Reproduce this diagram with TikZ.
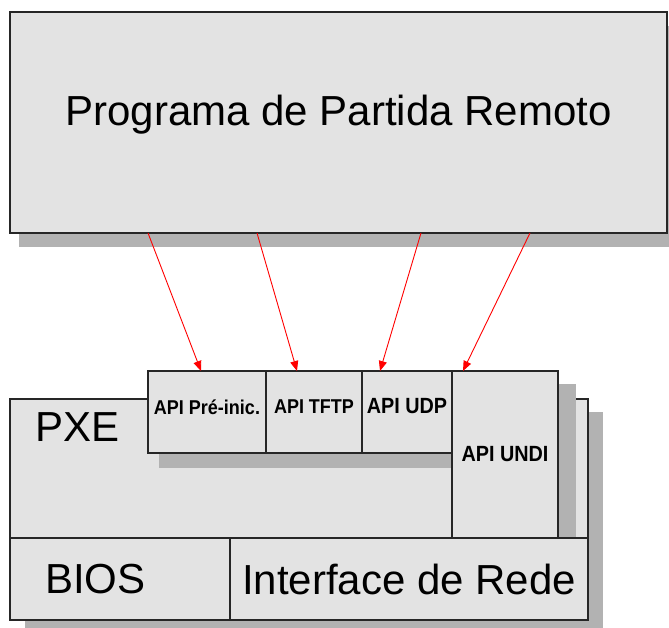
\documentclass[tikz,border=0pt]{standalone}
\usepackage{fontspec}
\setmainfont{Liberation Sans}
\newfontfamily\apifont[FakeStretch=0.9]{Liberation Sans}
\usetikzlibrary{arrows.meta}
\definecolor{boxfill}{HTML}{E3E3E3}
\definecolor{shadowc}{HTML}{B2B2B2}
\begin{document}
\begin{tikzpicture}[x=1pt,y=-1pt,
  box/.style={draw=black!85, line width=1.5pt, fill=boxfill, rectangle, inner sep=0pt, outer sep=0pt, anchor=north west},
  shadowfill/.style={fill=shadowc, draw=none},
  arr/.style={draw=red, line width=0.9pt, -{Triangle[length=10pt,width=8pt]}},
  bigtext/.style={font=\fontsize{42}{46}\selectfont},
  apismall/.style={font=\apifont\bfseries\fontsize{20}{22}\selectfont},
  apilarge/.style={font=\apifont\bfseries\fontsize{22}{24}\selectfont}]
\useasboundingbox (0,0) rectangle (669,628);

% top box
\fill[shadowfill] (19,26) rectangle (669,247);
\node[box, minimum width=657pt, minimum height=221pt, bigtext] (prog) at (10,12) {\raisebox{24pt}{Programa de Partida Remoto}};

% lower block
\fill[shadowfill] (25,412) rectangle (603,633);
\node[box, minimum width=578pt, minimum height=139pt,
  label={[anchor=north west, bigtext, inner sep=0pt, xshift=25pt, yshift=-13pt]north west:PXE}] (pxe) at (10,399) {};
\node[box, minimum width=220pt, minimum height=82pt, text width=150pt, inner xsep=35pt, align=left, bigtext] (bios) at (10,538) {BIOS};
\node[box, minimum width=358pt, minimum height=82pt, bigtext] (nic) at (230,538) {Interface de Rede};

% API shadows
\fill[shadowfill] (159,384) rectangle (464,468);
\fill[shadowfill] (470,384) rectangle (576,537);

% API boxes
\node[box, minimum width=118pt, minimum height=82pt, apismall] (pre) at (148,371) {\raisebox{10pt}{API Pré-inic.}};
\node[box, minimum width=96pt, minimum height=82pt, apismall] (tftp) at (266,371) {\raisebox{10pt}{API TFTP}};
\node[box, minimum width=90pt, minimum height=82pt, apilarge] (udp) at (362,371) {\raisebox{12pt}{API UDP}};
\node[box, minimum width=106pt, minimum height=167pt, apilarge] (undi) at (452,371) {API UNDI};

% arrows
\draw[arr] ([xshift=138pt]prog.south west) -- ([xshift=53pt]pre.north west);
\draw[arr] ([xshift=247pt]prog.south west) -- ([xshift=31pt]tftp.north west);
\draw[arr] ([xshift=411pt]prog.south west) -- ([xshift=18pt]udp.north west);
\draw[arr] ([xshift=520pt]prog.south west) -- ([xshift=11pt]undi.north west);
\end{tikzpicture}
\end{document}
